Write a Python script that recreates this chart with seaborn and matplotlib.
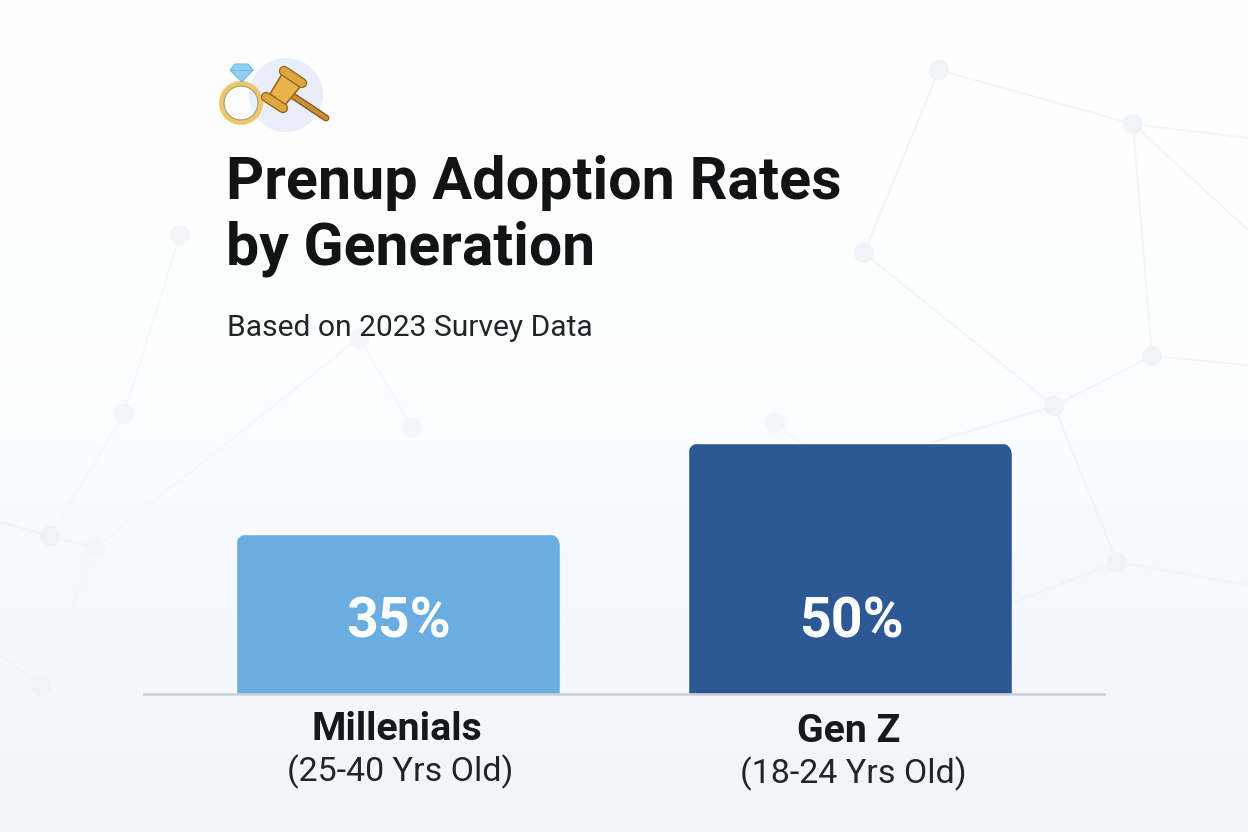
import matplotlib
matplotlib.use("Agg")
import matplotlib.pyplot as plt
from matplotlib.patches import Circle, FancyBboxPatch, Polygon
import numpy as np
import seaborn as sns

# chart data
categories = ["Millenials", "Gen Z"]
age_ranges = ["(25-40 Yrs Old)", "(18-24 Yrs Old)"]
rates = [35, 50]
# the bars in the picture are not drawn in proportion to their labels,
# so the drawn heights are read off separately (in pixels)
bar_heights = [160, 251]
bar_colors = ["#6aade0", "#2c5994"]

# background network, pixel positions
nodes = [(939, 70), (1133, 124), (864, 253), (1152, 356), (1054, 406), (1117, 562),
         (50, 536), (41, 686)]
faint_nodes = [(775, 423), (412, 427), (359, 338), (124, 414), (180, 235), (95, 548)]
links = [((939, 70), (1133, 124)), ((939, 70), (864, 253)), ((1133, 124), (1248, 138)),
         ((1133, 124), (1248, 230)), ((1133, 124), (1152, 356)), ((1152, 356), (1248, 365)),
         ((1152, 356), (1054, 406)), ((864, 253), (1054, 406)), ((1054, 406), (930, 443)),
         ((1054, 406), (1117, 562)), ((1117, 562), (1248, 585)), ((1117, 562), (1012, 603)),
         ((50, 536), (0, 522)), ((50, 536), (95, 548)), ((41, 686), (0, 655))]
faint_links = [((180, 235), (124, 414)), ((124, 414), (50, 536)), ((95, 548), (41, 686)),
               ((95, 548), (359, 338)), ((359, 338), (412, 427)), ((560, 630), (688, 655)),
               ((775, 423), (800, 443))]

sns.set_theme(style="white")
plt.rcParams["font.family"] = ["Roboto", "DejaVu Sans"]

fig = plt.figure(figsize=(12.48, 8.32), dpi=100)

# full figure axes in pixel coordinates for the backdrop and header
bg = fig.add_axes([0, 0, 1, 1])
bg.set_xlim(0, 1248)
bg.set_ylim(832, 0)
bg.axis("off")

shade = np.interp(np.linspace(0, 1, 256), [0, 0.4, 1], [0, 0.1, 1])[:, None, None]
top = np.array([1.0, 1.0, 1.0])
bottom = np.array([0.945, 0.961, 0.988])
bg.imshow(top + shade * (bottom - top), extent=(0, 1248, 832, 0), aspect="auto", zorder=0)

for a, b in links:
    bg.plot([a[0], b[0]], [a[1], b[1]], color="#f1f4f9", lw=1.3, zorder=1)
for a, b in faint_links:
    bg.plot([a[0], b[0]], [a[1], b[1]], color="#f6f7fb", lw=1.2, zorder=1)
for x, y in nodes:
    bg.add_patch(Circle((x, y), 10, color="#eff3fa", lw=0, zorder=2))
for x, y in faint_nodes:
    bg.add_patch(Circle((x, y), 10, color="#f5f6fb", lw=0, zorder=2))

# icon
bg.add_patch(Circle((286, 95), 37, color="#e8effa", lw=0, zorder=3))
bg.add_patch(Circle((241, 103), 19.3, fill=False, ec="#eec768", lw=3.8, zorder=4))
bg.add_patch(Circle((241, 103), 17, fill=False, ec="#a89f80", lw=0.8, zorder=4))
bg.add_patch(Polygon([(230, 70), (235, 64), (248, 64), (253, 70), (242, 82)],
                     fc="#8fd0f2", ec="#6fb8e8", lw=0.8, zorder=5))
bg.plot([230, 253], [70, 70], color="#6fb8e8", lw=0.6, zorder=5)
bg.plot([293, 326], [96, 118], color="#8a5a1c", lw=5, solid_capstyle="round", zorder=4)
bg.plot([293, 326], [96, 118], color="#c98f3c", lw=3, solid_capstyle="round", zorder=4)
bg.add_patch(Polygon([(282, 74), (300, 87), (285, 105), (270, 94)],
                     fc="#e9b44c", ec="#9a6a20", lw=1.2, zorder=5))
bg.plot([284, 302], [71, 83], color="#9a6a20", lw=7.5, solid_capstyle="round", zorder=6)
bg.plot([284, 302], [71, 83], color="#dda63f", lw=5.5, solid_capstyle="round", zorder=6)
bg.plot([266, 283], [97, 108], color="#9a6a20", lw=7.5, solid_capstyle="round", zorder=6)
bg.plot([266, 283], [97, 108], color="#dda63f", lw=5.5, solid_capstyle="round", zorder=6)

# header
bg.text(226, 183, "Prenup Adoption Rates", fontsize=42.7, fontweight="bold",
        color="#111315", va="center", ha="left", zorder=7)
bg.text(226, 249, "by Generation", fontsize=42.4, fontweight="bold",
        color="#111315", va="center", ha="left", zorder=7)
bg.text(227, 328, "Based on 2023 Survey Data", fontsize=21.6,
        color="#222528", va="center", ha="left", zorder=7)

# bar axes: one y unit is one pixel, category centres are 452 px apart
ax = fig.add_axes([144 / 1248, (832 - 694) / 832, 960 / 1248, 300 / 832])
ax.patch.set_alpha(0)
sns.barplot(x=categories, y=bar_heights, hue=categories, palette=bar_colors,
            width=0.717, legend=False, saturation=1, ax=ax)
ax.set_xlim(-254 / 452, 706 / 452)
ax.set_ylim(0, 300)
ax.set_yticks([])
ax.set_xticks([])
ax.set_xlabel("")
ax.set_ylabel("")
sns.despine(ax=ax, left=True)
ax.spines["bottom"].set_color("#ccd0d6")
ax.spines["bottom"].set_linewidth(1.8)
ax.spines["bottom"].set_zorder(1)

# round the top corners of each bar
for bar in ax.patches:
    clip = FancyBboxPatch((bar.get_x(), -40), bar.get_width(), bar.get_height() + 40,
                          boxstyle="round,pad=0,rounding_size=0.03", mutation_aspect=452,
                          transform=ax.transData)
    bar.set_clip_path(clip)

name_offset = [-35, -37]
age_offset = [-78, -80]
age_shift = [2, 3]
for i, bar in enumerate(ax.patches):
    center = bar.get_x() + bar.get_width() / 2
    ax.annotate(f"{rates[i]}%", (center, 0), xytext=(1, 71), textcoords="offset pixels",
                ha="center", va="center", color="white", fontsize=40, fontweight="bold")
    ax.annotate(categories[i], (center, 0), xytext=(-1, name_offset[i]), textcoords="offset pixels",
                ha="center", va="center", color="#16181b", fontsize=28.3, fontweight="bold",
                annotation_clip=False)
    ax.annotate(age_ranges[i], (center, 0), xytext=(age_shift[i], age_offset[i]), textcoords="offset pixels",
                ha="center", va="center", color="#222528", fontsize=24.5,
                annotation_clip=False)

fig.savefig("out.png", dpi=100)
